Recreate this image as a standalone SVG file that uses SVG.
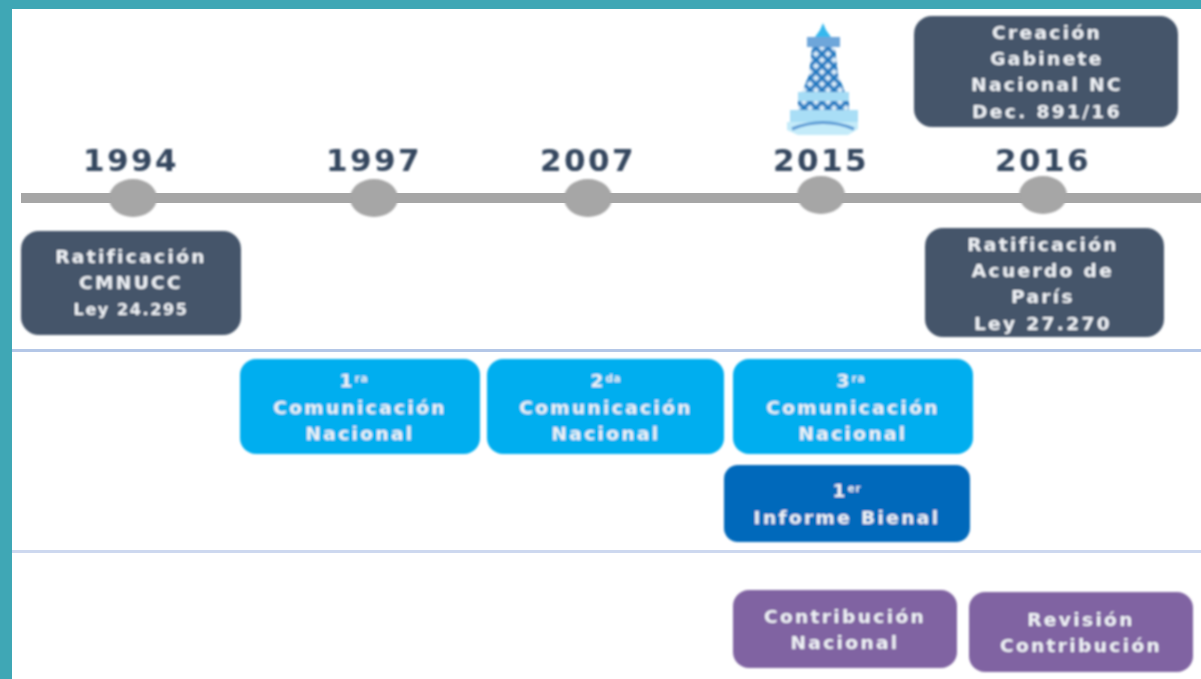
<svg xmlns="http://www.w3.org/2000/svg" width="1201" height="679" viewBox="0 0 1201 679">
<style>
text{font-family:"DejaVu Sans","Liberation Sans",sans-serif;font-weight:700;text-anchor:middle}
.yr{font-size:31px;fill:#34465f;letter-spacing:2.4px}
.lb{font-size:18.5px;fill:#eef1f5;letter-spacing:2.4px}
.sup{font-size:10px;letter-spacing:1px}
.dark{fill:#44546a}.sky{fill:#00aeef}.blue{fill:#0069bb}.pur{fill:#8064a2}
.dot{fill:#a6a6a6}
</style>
<defs>
<filter id="soft" x="-5%" y="-5%" width="110%" height="110%"><feGaussianBlur stdDeviation=".8"/></filter>
<pattern id="lattice" width="12" height="12" patternUnits="userSpaceOnUse"><rect width="12" height="12" fill="#7fb2de"/><path d="M0 0L12 12M12 0L0 12" stroke="#0f73bd" stroke-width="2.2"/><circle cx="6" cy="0" r="2" fill="#e6f3fb"/><circle cx="0" cy="6" r="2" fill="#e6f3fb"/><circle cx="12" cy="6" r="2" fill="#e6f3fb"/><circle cx="6" cy="12" r="2" fill="#e6f3fb"/></pattern>
</defs>
<rect width="1201" height="679" fill="#fff"/>
<g id="frame" fill="#3fa7b5"><rect width="1201" height="9"/><rect width="12" height="679"/></g>
<g id="connectors">
<rect x="21" y="193" width="1180" height="10" fill="#a6a6a6"/>
<rect x="12" y="349" width="1189" height="3" fill="#b4c7e7"/>
<rect x="12" y="550" width="1189" height="3" fill="#cdd8ef"/>
</g>
<g filter="url(#soft)">
<g id="y1994"><ellipse class="dot" cx="133" cy="198" rx="24" ry="19"/><text class="yr" x="131" y="171">1994</text></g>
<g id="y1997"><ellipse class="dot" cx="374" cy="198" rx="24" ry="19"/><text class="yr" x="374" y="171">1997</text></g>
<g id="y2007"><ellipse class="dot" cx="588" cy="198" rx="24" ry="19"/><text class="yr" x="588" y="171">2007</text></g>
<g id="y2015"><ellipse class="dot" cx="821" cy="195" rx="24" ry="19"/><text class="yr" x="821" y="171">2015</text></g>
<g id="y2016"><ellipse class="dot" cx="1043" cy="195" rx="24" ry="19"/><text class="yr" x="1043" y="171">2016</text></g>
<g id="tower">
<path d="M823 23l3 7 5 7h-16l5-7z" fill="#35b8ee"/>
<rect x="807" y="37" width="33" height="10" fill="#6ea6da"/>
<path d="M812 47h23l3 28 7 17h-43l7-17z" fill="url(#lattice)"/>
<rect x="798" y="92" width="51" height="9" fill="#a5dcf5"/>
<rect x="798" y="101" width="51" height="9" fill="url(#lattice)"/>
<rect x="790" y="110" width="68" height="12" fill="#a9def6"/>
<path d="M787 122h71v7l-10 6h-50l-11-5z" fill="#c4ebf9"/>
<path d="M792 129q31-13 62 0" fill="none" stroke="#5b9bd5" stroke-width="3"/>
</g>
<g id="n-ratificacion-cmnucc"><rect class="dark" x="21" y="231" width="220" height="104" rx="18"/>
<text class="lb" x="131" y="263">Ratificación</text><text class="lb" x="131" y="289">CMNUCC</text><text class="lb" x="131" y="315" style="font-size:16px;letter-spacing:1.6px">Ley 24.295</text></g>
<g id="n-gabinete"><rect class="dark" x="914" y="16" width="264" height="111" rx="18"/>
<text class="lb" x="1047" y="39">Creación</text><text class="lb" x="1047" y="65">Gabinete</text><text class="lb" x="1047" y="91">Nacional NC</text><text class="lb" x="1047" y="118">Dec. 891/16</text></g>
<g id="n-paris"><rect class="dark" x="925" y="228" width="239" height="109" rx="18"/>
<text class="lb" x="1043" y="251">Ratificación</text><text class="lb" x="1043" y="277">Acuerdo de</text><text class="lb" x="1043" y="303">París</text><text class="lb" x="1043" y="330">Ley 27.270</text></g>
<g id="n-com1"><rect class="sky" x="240" y="359" width="240" height="95" rx="16"/>
<text class="lb" x="354" y="387">1<tspan class="sup" dy="-5">ra</tspan></text><text class="lb" x="360" y="414">Comunicación</text><text class="lb" x="360" y="440">Nacional</text></g>
<g id="n-com2"><rect class="sky" x="487" y="359" width="237" height="95" rx="16"/>
<text class="lb" x="606" y="387">2<tspan class="sup" dy="-5">da</tspan></text><text class="lb" x="606" y="414">Comunicación</text><text class="lb" x="606" y="440">Nacional</text></g>
<g id="n-com3"><rect class="sky" x="733" y="359" width="240" height="95" rx="16"/>
<text class="lb" x="851" y="387">3<tspan class="sup" dy="-5">ra</tspan></text><text class="lb" x="853" y="414">Comunicación</text><text class="lb" x="853" y="440">Nacional</text></g>
<g id="n-informe"><rect class="blue" x="724" y="465" width="246" height="77" rx="14"/>
<text class="lb" x="847" y="497">1<tspan class="sup" dy="-5">er</tspan></text><text class="lb" x="847" y="524">Informe Bienal</text></g>
<g id="n-contribucion"><rect class="pur" x="733" y="590" width="224" height="78" rx="16"/>
<text class="lb" x="845" y="623">Contribución</text><text class="lb" x="845" y="649">Nacional</text></g>
<g id="n-revision"><rect class="pur" x="969" y="592" width="224" height="80" rx="16"/>
<text class="lb" x="1081" y="626">Revisión</text><text class="lb" x="1081" y="652">Contribución</text></g>
</g>
</svg>
